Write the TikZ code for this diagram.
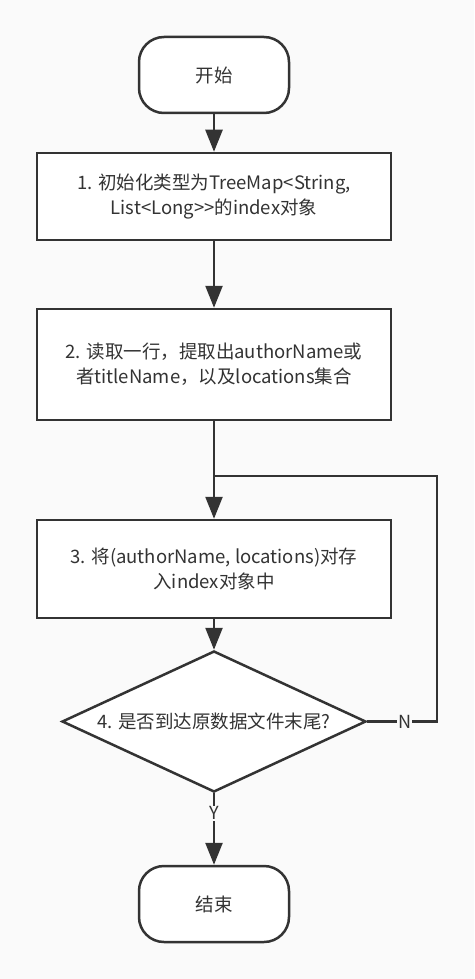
\documentclass[tikz,border=0pt]{standalone}
\usepackage{fontspec}
\setmainfont{Noto Sans CJK SC}
\usetikzlibrary{shapes.geometric,arrows.meta}
\definecolor{ink}{HTML}{333333}
\definecolor{bgc}{HTML}{FAFAFA}
\begin{document}
\begin{tikzpicture}[x=1pt,y=-1pt,
  every node/.style={font=\fontsize{18.5}{25}\selectfont, text=ink},
  base/.style={draw=ink, line width=2.5pt, fill=white, inner sep=0pt},
  term/.style={base, rounded corners=25pt, minimum width=150pt, minimum height=76pt},
  proc/.style={base, minimum width=354pt, align=center},
  dia/.style={base, diamond, minimum width=304pt, minimum height=141pt},
  line/.style={draw=ink, line width=2.5pt},
  arr/.style={line, -{Triangle[length=22pt,width=17pt]}},
  lab/.style={fill=bgc, inner sep=1pt, font=\fontsize{18}{20}\selectfont}
]
\fill[bgc] (0,0) rectangle (474,979);
\useasboundingbox (0,0) rectangle (474,979);

\node[term] (start) at (214,75) {开始};
\node[proc, minimum height=87pt] (b1) at (214,196.5) {1. 初始化类型为TreeMap<String,\\List<Long>{}>的index对象};
\node[proc, minimum height=111pt] (b2) at (214,364.5) {2. 读取一行，提取出authorName或\\者titleName，以及locations集合};
\node[proc, minimum height=98pt] (b3) at (214,569) {3. 将(authorName, locations)对存\\入index对象中};
\node[dia, label={center:4. 是否到达原数据文件末尾?}] (d) at (214,721.5) {};
\node[term] (end) at (214,904) {结束};

\coordinate (j) at (214,476);
\coordinate (c) at (437,721.5);

\draw[arr] (start) -- (b1);
\draw[arr] (b1) -- (b2);
\draw[arr] (b2) -- (b3);
\draw[arr] (b3) -- (d);
\draw[arr] (d) -- node[lab, pos=0.28] {Y} (end);
\draw[line] (d.east) -- node[lab, pos=0.54] {N} (c) |- (j);
\end{tikzpicture}
\end{document}
